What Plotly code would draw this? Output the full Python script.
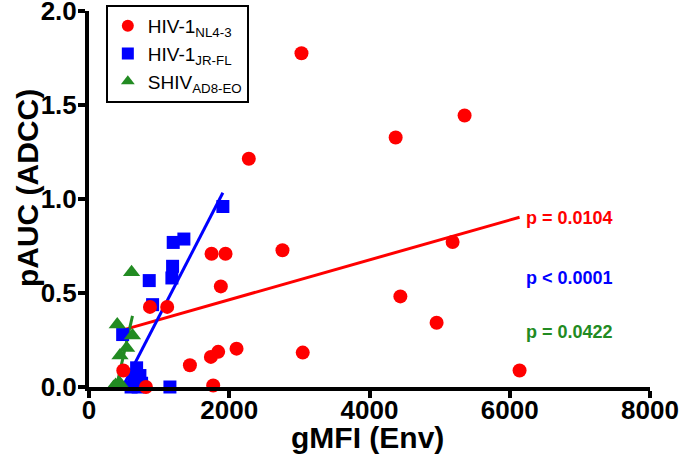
import plotly.graph_objects as go

# ---- data ----
nl43_x = [3030, 5356, 4373, 2279, 2759, 5185, 4440, 1748, 1947, 1880, 869, 1115,
          2104, 1842, 1738, 1439, 489, 812, 1771, 3048, 4957, 6140]
nl43_y = [1.775, 1.444, 1.327, 1.214, 0.727, 0.771, 0.482, 0.709, 0.709, 0.535, 0.426, 0.426,
          0.204, 0.187, 0.160, 0.116, 0.088, 0.0, 0.008, 0.183, 0.342, 0.088]

jrfl_x = [1909, 1353, 1201, 1192, 1182, 859, 907, 480, 679, 726, 655, 1154, 600, 700, 750, 640]
jrfl_y = [0.96, 0.787, 0.769, 0.642, 0.580, 0.566, 0.438, 0.279, 0.102, 0.061, 0.024, 0.0,
          0.0, 0.0, 0.02, 0.05]

ad8_x = [607, 403, 620, 537, 442, 350, 380, 410, 440, 470]
ad8_y = [0.610, 0.332, 0.274, 0.208, 0.167, 0.0, 0.01, 0.0, 0.02, 0.0]

# regression line end points
nl43_fit_x = [489, 6140]
nl43_fit_y = [0.304, 0.903]
jrfl_fit_x = [480, 1909]
jrfl_fit_y = [0.0, 1.033]
ad8_fit_x = [390, 620]
ad8_fit_y = [0.0, 0.378]

p_labels = ["p = 0.0104", "p < 0.0001", "p = 0.0422"]
p_label_y = [0.90, 0.58, 0.29]

x_ticks = [0, 2000, 4000, 6000, 8000]
y_ticks = [0.0, 0.5, 1.0, 1.5, 2.0]
y_tick_text = ["0.0", "0.5", "1.0", "1.5", "2.0"]

RED = "#FF0000"
BLUE = "#0000FF"
GREEN = "#228B22"
FONT = "Arial, Liberation Sans, Helvetica, sans-serif"

fig = go.Figure()

# regression lines
fig.add_trace(go.Scatter(x=nl43_fit_x, y=nl43_fit_y, mode="lines",
                         line=dict(color=RED, width=3), showlegend=False, cliponaxis=False))
fig.add_trace(go.Scatter(x=ad8_fit_x, y=ad8_fit_y, mode="lines",
                         line=dict(color=GREEN, width=3), showlegend=False, cliponaxis=False))

# markers
fig.add_trace(go.Scatter(x=jrfl_x, y=jrfl_y, mode="markers", name="HIV-1<sub>JR-FL</sub>",
                         legendrank=2,
                         marker=dict(symbol="square", size=13, color=BLUE), cliponaxis=False))
fig.add_trace(go.Scatter(x=jrfl_fit_x, y=jrfl_fit_y, mode="lines",
                         line=dict(color=BLUE, width=3), showlegend=False, cliponaxis=False))
fig.add_trace(go.Scatter(x=ad8_x, y=ad8_y, mode="markers", name="SHIV<sub>AD8-EO</sub>",
                         legendrank=3,
                         marker=dict(symbol="triangle-up", size=15, color=GREEN), cliponaxis=False))
fig.add_trace(go.Scatter(x=nl43_x, y=nl43_y, mode="markers", name="HIV-1<sub>NL4-3</sub>",
                         legendrank=1,
                         marker=dict(symbol="circle", size=14, color=RED), cliponaxis=False))

# p-value labels
for txt, yy, col in zip(p_labels, p_label_y, [RED, BLUE, GREEN]):
    fig.add_annotation(x=6200, y=yy, xref="x", yref="y", text=txt, showarrow=False,
                       xanchor="left", yanchor="middle",
                       font=dict(family=FONT, size=18, color=col, weight="bold"))

# axis titles
fig.add_annotation(x=0.497, y=0, xref="paper", yref="paper", yshift=-50,
                   text="gMFI (Env)", showarrow=False, xanchor="center", yanchor="middle",
                   font=dict(family=FONT, size=30, color="black", weight="bold"))
fig.add_annotation(x=0, y=0.529, xref="paper", yref="paper", xshift=-62, textangle=-90,
                   text="pAUC (ADCC)", showarrow=False, xanchor="center", yanchor="middle",
                   font=dict(family=FONT, size=30, color="black", weight="bold"))

fig.update_layout(
    width=680, height=461,
    margin=dict(l=89, r=30, t=11, b=74, autoexpand=False),
    paper_bgcolor="white", plot_bgcolor="white",
    font=dict(family=FONT, color="black"),
    legend=dict(
        x=0.030, y=1.016, xanchor="left", yanchor="top",
        bordercolor="black", borderwidth=2, bgcolor="white",
        font=dict(family=FONT, size=19, color="black"),
        itemsizing="constant",
        tracegroupgap=0,
    ),
    showlegend=True,
)

fig.update_xaxes(
    range=[0, 8000], tickvals=x_ticks, ticktext=[str(v) for v in x_ticks],
    showline=True, linecolor="black", linewidth=4,
    ticks="outside", ticklen=7, tickwidth=4, tickcolor="black",
    showgrid=False, zeroline=False, automargin=False, ticklabeloverflow="allow",
    ticklabelstandoff=-10,
    tickfont=dict(family=FONT, size=26, color="black", weight="bold"),
)
fig.update_yaxes(
    range=[0, 2], tickvals=y_ticks, ticktext=y_tick_text,
    showline=True, linecolor="black", linewidth=4,
    ticks="outside", ticklen=7, tickwidth=4, tickcolor="black",
    showgrid=False, zeroline=False, automargin=False, ticklabeloverflow="allow",
    ticklabelstandoff=-4,
    tickfont=dict(family=FONT, size=26, color="black", weight="bold"),
)

# remove the default 8px page margin so the figure fills the 680x461 window
fig.write_html("out.html", config={"displayModeBar": False},
               post_script="document.body.style.margin='0px';")
